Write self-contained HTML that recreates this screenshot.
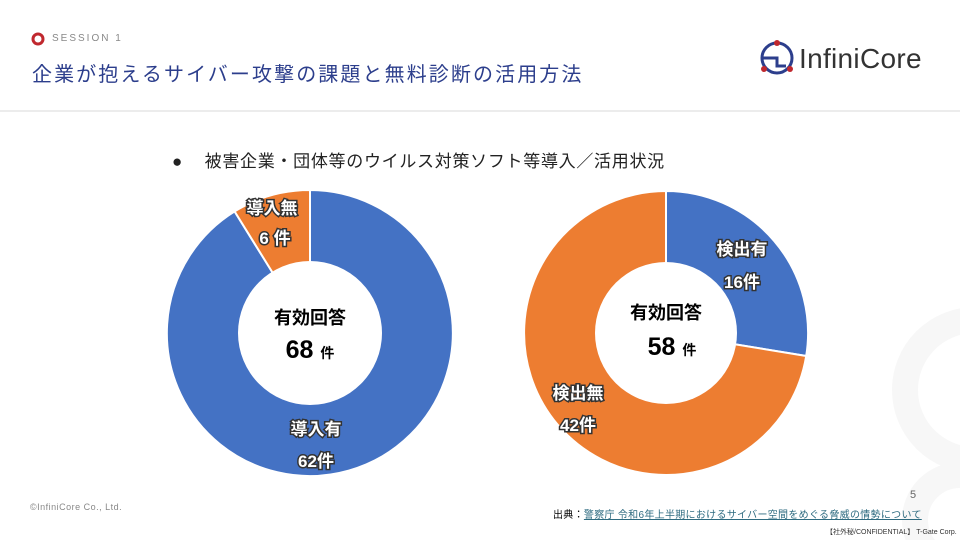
<!DOCTYPE html>
<html><head><meta charset="utf-8"><style>
body{margin:0;width:960px;height:540px;overflow:hidden;background:#fff;font-family:"Liberation Sans","Noto Sans CJK JP",sans-serif;position:relative}
.a{position:absolute;white-space:nowrap}
</style></head><body>
<svg width="960" height="540" style="position:absolute;left:0;top:0">
<g fill="none" stroke="#f7f7f7" stroke-width="26">
<circle cx="975" cy="390" r="70"/><circle cx="960" cy="520" r="45"/>
</g>
<line x1="0" y1="111" x2="960" y2="111" stroke="#d9d9d9" stroke-width="1"/>
<circle cx="38" cy="39" r="5" fill="none" stroke="#c0282e" stroke-width="3"/>
<circle cx="777" cy="58" r="15" fill="none" stroke="#2c3e8c" stroke-width="3"/>
<path d="M762 58 H777 V66 H786" fill="none" stroke="#2c3e8c" stroke-width="3"/>
<circle cx="777" cy="43" r="3" fill="#c0282e"/><circle cx="764" cy="69" r="3" fill="#c0282e"/><circle cx="790" cy="69" r="3" fill="#c0282e"/>
<path d="M310 333 L310 190 A143 143 0 1 1 234.6 211.4 Z" fill="#4472c4" stroke="#fff" stroke-width="2"/>
<path d="M310 333 L234.6 211.4 A143 143 0 0 1 310 190 Z" fill="#ed7d31" stroke="#fff" stroke-width="2"/>
<circle cx="310" cy="333" r="72" fill="#fff"/>
<path d="M666 333 L666 191 A142 142 0 0 1 806.2 356 Z" fill="#4472c4" stroke="#fff" stroke-width="2"/>
<path d="M666 333 L806.2 356 A142 142 0 1 1 666 191 Z" fill="#ed7d31" stroke="#fff" stroke-width="2"/>
<circle cx="666" cy="333" r="71" fill="#fff"/>
<g font-family="Liberation Sans,Noto Sans CJK JP,sans-serif" font-weight="bold" font-size="17" fill="#fff" stroke="#333" stroke-width="3" paint-order="stroke" text-anchor="middle">
<text x="272" y="214">導入無</text><text x="275" y="244">6 件</text>
<text x="316" y="435">導入有</text><text x="316" y="467">62件</text>
<text x="742" y="255">検出有</text><text x="742" y="288">16件</text>
<text x="578" y="399">検出無</text><text x="578" y="431">42件</text>
</g>
<g font-family="Liberation Sans,Noto Sans CJK JP,sans-serif" font-weight="bold" fill="#000" text-anchor="middle">
<text x="310" y="324" font-size="18">有効回答</text>
<text x="310" y="358" font-size="25">68 <tspan font-size="14">件</tspan></text>
<text x="666" y="319" font-size="18">有効回答</text>
<text x="672" y="355" font-size="25">58 <tspan font-size="14">件</tspan></text>
</g>
</svg>
<div class="a" style="left:52px;top:33px;font-size:10px;letter-spacing:2px;color:#888">SESSION 1</div>
<div class="a" style="left:32px;top:58px;font-size:20px;letter-spacing:2.1px;color:#2c3e8c">企業が抱えるサイバー攻撃の課題と無料診断の活用方法</div>
<div class="a" style="left:799px;top:43px;font-size:28px;color:#333;letter-spacing:0.3px">InfiniCore</div>
<div class="a" style="left:172px;top:147px;font-size:17px;color:#222;letter-spacing:0.7px">●&nbsp;&nbsp;&nbsp;&nbsp;被害企業・団体等のウイルス対策ソフト等導入／活用状況</div>
<div class="a" style="left:30px;top:502px;font-size:9px;color:#888;letter-spacing:0.5px">©InfiniCore Co., Ltd.</div>
<div class="a" style="left:910px;top:489px;font-size:11px;color:#666">5</div>
<div class="a" style="left:553px;top:506px;font-size:10px;color:#000;letter-spacing:0.3px">出典：<span style="color:#2e6b80;text-decoration:underline">警察庁 令和6年上半期におけるサイバー空間をめぐる脅威の情勢について</span></div>
<div class="a" style="left:826px;top:527px;font-size:7px;color:#333">【社外秘/CONFIDENTIAL】 T-Gate Corp.</div>
</body></html>
